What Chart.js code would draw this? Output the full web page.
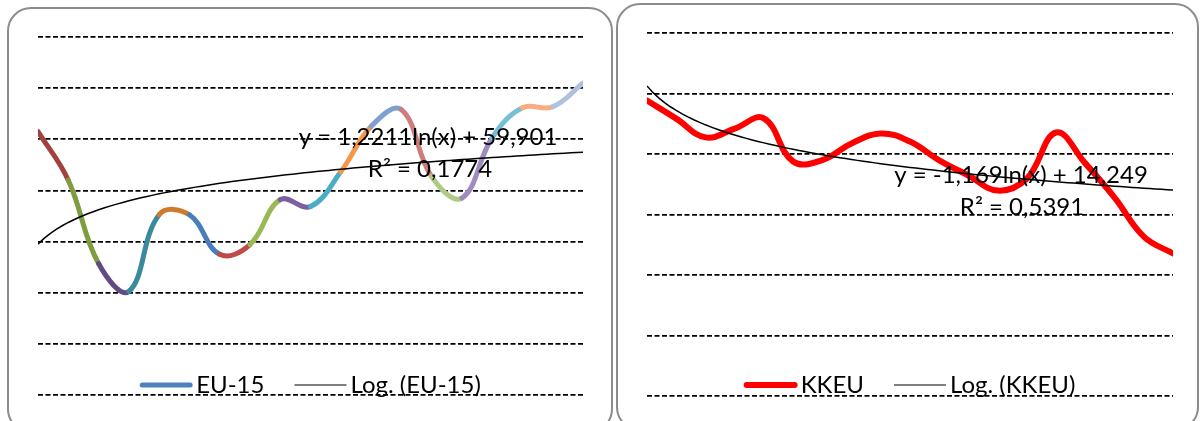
<!DOCTYPE html>
<html lang="tr">
<head>
    <meta charset="UTF-8">
    <title>EU-15 / KKEU</title>
    <style>
        body{
            margin: 0;
            background-color: #fff;
            width: 1200px;
            height: 421px;
            overflow: hidden;
            position: relative;
        }
        .panel{
            position: absolute;
            box-sizing: border-box;
            border: 2px solid #8c8c8c;
            border-radius: 24px;
        }
        .grafik{
            position: absolute;
            top: 0;
            width: 600px;
            height: 421px;
        }
    </style>
</head>
<body>
    <div class="panel" style="left:7px; top:7px; width:606px; height:426px;"></div>
    <div class="panel" style="left:616px; top:3px; width:583px; height:428px;"></div>
    <div class="grafik" style="left:0;"><canvas id="grafikEU"></canvas></div>
    <div class="grafik" style="left:600px;"><canvas id="grafikKKEU"></canvas></div>

    <script src="https://cdn.jsdelivr.net/npm/chart.js"></script>

    <script>
        // yillar (1..19)
        const periods = [1,2,3,4,5,6,7,8,9,10,11,12,13,14,15,16,17,18,19]
        const eu15 = [64.3, 62.4, 59.14, 58.05, 61.05, 61.05, 59.5, 59.88, 61.64, 61.37, 62.73, 64.5, 65.16, 62.54, 61.7, 64.06, 65.23, 65.27, 66.2]
        const kkeu = [13.77, 13.17, 12.55, 12.84, 13.18, 11.75, 11.8, 12.35, 12.68, 12.41, 11.79, 11.29, 10.79, 11.19, 12.71, 11.69, 10.56, 9.27, 8.71]
        const eu15Ticks = [54, 56, 58, 60, 62, 64, 66, 68]
        const kkeuTicks = [4, 6, 8, 10, 12, 14, 16]
        // Excel "renkleri noktaya gore degistir"
        const eu15Colors = ['#4F81BD','#A2413E','#7F9C3F','#604A83','#3A8A9E','#D07A2E','#4A7EBB','#BE4B48','#98B954','#7D5FA0','#4BACC6','#F79646','#7F9FD0','#CF7D7B','#AFCA84','#9E8BBF','#78BFD6','#F9AD7E','#AFC1DD']
        // log. egilim cizgileri
        const eu15TrendA = 1.2211, eu15TrendB = 59.901
        const kkeuTrendA = -1.169, kkeuTrendB = 14.249
        const eu15Eq = ['y = 1,2211ln(x) + 59,901', 'R² = 0,1774']
        const kkeuEq = ['y = -1,169ln(x) + 14,249', 'R² = 0,5391']

        const trendPoints = (a, b) => {
            const pts = []
            for (let x = periods[0]; x <= periods[periods.length - 1] + 1e-9; x += 0.2) {
                pts.push({x: x, y: a * Math.log(x) + b})
            }
            return pts
        }

        const overlay = {
            id: 'overlay',
            afterDraw(chart, args, opts) {
                const ctx = chart.ctx
                const area = chart.chartArea
                ctx.save()
                ctx.font = '24px Lato'
                ctx.fillStyle = '#000'
                ctx.textBaseline = 'alphabetic'
                ctx.textAlign = 'center'
                opts.texts.forEach(t => ctx.fillText(t.text, area.left + t.dx, t.y))

                // lejant
                ctx.textAlign = 'left'
                const items = chart.data.datasets.map(d => ({
                    label: d.label, color: d.legendColor, width: d.legendWidth,
                    textW: ctx.measureText(d.label).width
                }))
                const sample = 52, gap = 4, itemGap = 30
                let total = 0
                items.forEach((it, i) => { total += sample + gap + it.textW + (i ? itemGap : 0) })
                let x = (area.left + area.right) / 2 - total / 2
                items.forEach((it, i) => {
                    if (i) x += itemGap
                    ctx.beginPath()
                    ctx.strokeStyle = it.color
                    ctx.lineWidth = it.width
                    ctx.lineCap = it.width > 2 ? 'round' : 'butt'
                    ctx.moveTo(x + (it.width > 2 ? 2 : 0), opts.legendY)
                    ctx.lineTo(x + sample - (it.width > 2 ? 2 : 0), opts.legendY)
                    ctx.stroke()
                    x += sample + gap
                    ctx.fillText(it.label, x, opts.legendY + 8)
                    x += it.textW
                })
                ctx.restore()
            }
        }

        const yEksen = (ticks) => ({
            min: ticks[0],
            max: ticks[ticks.length - 1],
            ticks: {display: false, stepSize: ticks[1] - ticks[0]},
            grid: {color: '#000', lineWidth: 1.8, drawTicks: false},
            border: {display: false, dash: [5, 2.5]}
        })
        const xEksen = {
            type: 'linear',
            display: false,
            min: periods[0],
            max: periods[periods.length - 1]
        }

        new Chart(document.querySelector('#grafikEU'), {
            type: 'line',
            data: {
                datasets: [{
                    label: 'EU-15',
                    data: eu15.map((v, i) => ({x: periods[i], y: v})),
                    borderColor: eu15Colors[0],
                    legendColor: eu15Colors[0],
                    legendWidth: 5,
                    borderWidth: 5,
                    borderCapStyle: 'round',
                    borderJoinStyle: 'round',
                    tension: 0.4,
                    pointRadius: 0,
                    segment: {borderColor: c => eu15Colors[c.p1DataIndex]},
                    order: 2
                }, {
                    label: 'Log. (EU-15)',
                    data: trendPoints(eu15TrendA, eu15TrendB),
                    borderColor: '#000',
                    legendColor: '#000',
                    legendWidth: 1.2,
                    borderWidth: 1.5,
                    tension: 0,
                    pointRadius: 0,
                    order: 1
                }]
            },
            options: {
                responsive: true,
                maintainAspectRatio: false,
                animation: false,
                layout: {padding: {left: 38, right: 17, top: 37, bottom: 26}},
                scales: {x: xEksen, y: yEksen(eu15Ticks)},
                plugins: {
                    legend: {display: false},
                    tooltip: {enabled: false},
                    overlay: {
                        legendY: 385,
                        texts: [{text: eu15Eq[0], dx: 390, y: 145}, {text: eu15Eq[1], dx: 392, y: 177}]
                    }
                }
            },
            plugins: [overlay]
        })

        new Chart(document.querySelector('#grafikKKEU'), {
            type: 'line',
            data: {
                datasets: [{
                    label: 'KKEU',
                    data: kkeu.map((v, i) => ({x: periods[i], y: v})),
                    borderColor: '#FF0000',
                    legendColor: '#FF0000',
                    legendWidth: 6,
                    borderWidth: 6,
                    borderCapStyle: 'round',
                    borderJoinStyle: 'round',
                    tension: 0.4,
                    pointRadius: 0,
                    order: 2
                }, {
                    label: 'Log. (KKEU)',
                    data: trendPoints(kkeuTrendA, kkeuTrendB),
                    borderColor: '#000',
                    legendColor: '#000',
                    legendWidth: 1.2,
                    borderWidth: 1.5,
                    tension: 0,
                    pointRadius: 0,
                    order: 1
                }]
            },
            options: {
                responsive: true,
                maintainAspectRatio: false,
                animation: false,
                layout: {padding: {left: 47, right: 27, top: 33, bottom: 25}},
                scales: {x: xEksen, y: yEksen(kkeuTicks)},
                plugins: {
                    legend: {display: false},
                    tooltip: {enabled: false},
                    overlay: {
                        legendY: 385,
                        texts: [{text: kkeuEq[0], dx: 374, y: 183}, {text: kkeuEq[1], dx: 375, y: 215}]
                    }
                }
            },
            plugins: [overlay]
        })
    </script>
</body>
</html>
